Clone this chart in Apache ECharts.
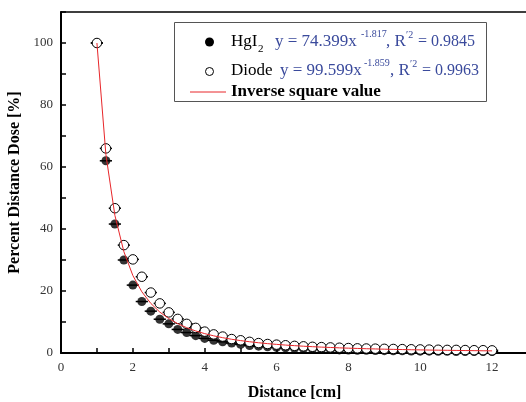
<!DOCTYPE html>
<html>
<head>
<meta charset="utf-8">
<script src="https://cdn.jsdelivr.net/npm/echarts@6/dist/echarts.min.js"></script>
<style>html,body{margin:0;padding:0;background:#fff}#c{width:526px;height:402px}</style>
</head>
<body>
<div id="c"></div>
<script>
// Distance [cm]
const distance = [1,1.25,1.5,1.75,2,2.25,2.5,2.75,3,3.25,3.5,3.75,4,4.25,4.5,4.75,5,5.25,5.5,5.75,6,6.25,6.5,6.75,7,7.25,7.5,7.75,8,8.25,8.5,8.75,9,9.25,9.5,9.75,10,10.25,10.5,10.75,11,11.25,11.5,11.75,12];
// HgI2 percent distance dose
const hgi2 = [100,62,41.6,30,21.9,16.6,13.5,10.9,9.4,7.6,6.6,5.6,4.7,4.1,3.6,3.2,2.8,2.4,2.2,2.0,1.8,1.65,1.5,1.4,1.3,1.2,1.1,1.0,0.95,0.9,0.85,0.8,0.75,0.7,0.7,0.65,0.6,0.6,0.55,0.55,0.5,0.5,0.5,0.45,0.45];
// Diode percent distance dose
const diode = [100,66,46.7,34.8,30.2,24.6,19.5,16,13.1,11,9.4,8.1,6.9,6.0,5.3,4.5,4.1,3.6,3.2,2.9,2.7,2.5,2.3,2.15,2.0,1.9,1.8,1.7,1.6,1.5,1.45,1.4,1.35,1.3,1.25,1.2,1.15,1.1,1.05,1.0,1.0,0.95,0.9,0.9,0.85];
// Inverse square value
const inverseSq = [100,64,44.4,32.7,25,19.75,16,13.2,11.1,9.47,8.16,7.11,6.25,5.54,4.94,4.43,4.0,3.63,3.31,3.02,2.78,2.56,2.37,2.19,2.04,1.9,1.78,1.66,1.56,1.47,1.38,1.31,1.23,1.17,1.11,1.05,1.0,0.95,0.91,0.87,0.83,0.79,0.76,0.72,0.69];
// horizontal error (cm)
const xError = 0.17;
const xTickLabels = [0,2,4,6,8,10,12];
const yTickLabels = [0,20,40,60,80,100];

const SERIF = '"Liberation Serif", "DejaVu Serif", serif';
const BLUE = '#3a4a9c';

const hgiData = distance.map((d,i)=>[d,hgi2[i]]);
const diodeData = distance.map((d,i)=>[d,diode[i]]);
const invData = distance.map((d,i)=>[d,inverseSq[i]]);
const errData = hgiData.concat(diodeData);

const chart = echarts.init(document.getElementById('c'), null, {renderer:'canvas'});

function errRender(params, api){
  const x = api.value(0), y = api.value(1);
  const p1 = api.coord([x - xError, y]);
  const p2 = api.coord([x + xError, y]);
  return {type:'line', shape:{x1:p1[0],y1:p1[1],x2:p2[0],y2:p2[1]}, style:{stroke:'#000', lineWidth:1.5}};
}

function txt(x,y,text,opt){
  return Object.assign({type:'text', x:x, y:y, z:100, style:Object.assign({text:text, font:'17px '+SERIF, fill:'#000', textVerticalAlign:'middle'}, opt||{})});
}

chart.setOption({
  animation:false,
  backgroundColor:'#fff',
  grid:{left:61, top:12, width:467, bottom:49, show:false, outerBoundsMode:'none', containLabel:false},
  xAxis:[{
    type:'value', min:0, max:13, interval:1,
    name:'Distance [cm]', nameLocation:'middle', nameGap:32,
    nameTextStyle:{fontFamily:SERIF, fontWeight:'bold', fontSize:16, color:'#000'},
    axisLine:{lineStyle:{color:'#000', width:2}},
    axisTick:{inside:true, length:5, lineStyle:{color:'#000', width:1.5}},
    splitLine:{show:false},
    axisLabel:{fontFamily:SERIF, fontSize:13, color:'#333', margin:8, showMaxLabel:false,
      formatter:v=> xTickLabels.indexOf(v)>=0 ? String(v) : ''}
  },{
    type:'value', position:'top', min:0, max:13,
    axisLine:{lineStyle:{color:'#000', width:1.5}},
    axisTick:{show:false}, axisLabel:{show:false}, splitLine:{show:false}
  }],
  yAxis:{
    type:'value', min:0, max:110, interval:10,
    name:'Percent Distance Dose [%]', nameLocation:'middle', nameGap:32,
    nameTextStyle:{fontFamily:SERIF, fontWeight:'bold', fontSize:16, color:'#000'},
    axisLine:{lineStyle:{color:'#000', width:2}},
    axisTick:{inside:true, length:5, lineStyle:{color:'#000', width:1.5}},
    splitLine:{show:false},
    axisLabel:{fontFamily:SERIF, fontSize:13, color:'#333', margin:8,
      formatter:v=> yTickLabels.indexOf(v)>=0 ? String(v) : ''}
  },
  series:[
    {type:'scatter', name:'HgI2', data:hgiData, symbol:'circle', symbolSize:9, z:2,
     itemStyle:{color:'#000'}},
    {type:'custom', name:'err', data:errData, renderItem:errRender, z:3},
    {type:'scatter', name:'Diode', data:diodeData, symbol:'circle', symbolSize:9.5, z:4,
     itemStyle:{color:'#fff', borderColor:'#000', borderWidth:1, opacity:1}},
    {type:'line', name:'Inverse square value', data:invData, showSymbol:false, z:5,
     lineStyle:{color:'#e8262a', width:1}, itemStyle:{color:'#e8262a'}}
  ],
  graphic:[
    {type:'rect', z:90, shape:{x:174.5, y:22.5, width:312, height:79}, style:{fill:'#fff', stroke:'#555', lineWidth:1}},
    {type:'circle', z:100, shape:{cx:209.5, cy:42, r:4.5}, style:{fill:'#000'}},
    {type:'circle', z:100, shape:{cx:209.5, cy:71.5, r:4}, style:{fill:'#fff', stroke:'#000', lineWidth:1}},
    {type:'line', z:100, shape:{x1:190, y1:92, x2:226, y2:92}, style:{stroke:'#e8262a', lineWidth:1}},
    txt(231,42,'HgI'),
    txt(258,49,'2',{font:'11px '+SERIF}),
    txt(275,42,'y = 74.399x',{fill:BLUE}),
    txt(361,34,'-1.817',{fill:BLUE, font:'10px '+SERIF}),
    txt(386,42,', R',{fill:BLUE}),
    txt(406,35,'\u20322',{fill:BLUE, font:'10px '+SERIF}),
    txt(418,42,'= 0.9845',{fill:BLUE, font:'16px '+SERIF}),
    txt(231,71,'Diode'),
    txt(280,71,'y = 99.599x',{fill:BLUE}),
    txt(364,63,'-1.859',{fill:BLUE, font:'10px '+SERIF}),
    txt(390,71,', R',{fill:BLUE}),
    txt(410,64,'\u20322',{fill:BLUE, font:'10px '+SERIF}),
    txt(422,71,'= 0.9963',{fill:BLUE, font:'16px '+SERIF}),
    txt(231,92,'Inverse square value',{font:'bold 17px '+SERIF})
  ]
});
</script>
</body>
</html>
